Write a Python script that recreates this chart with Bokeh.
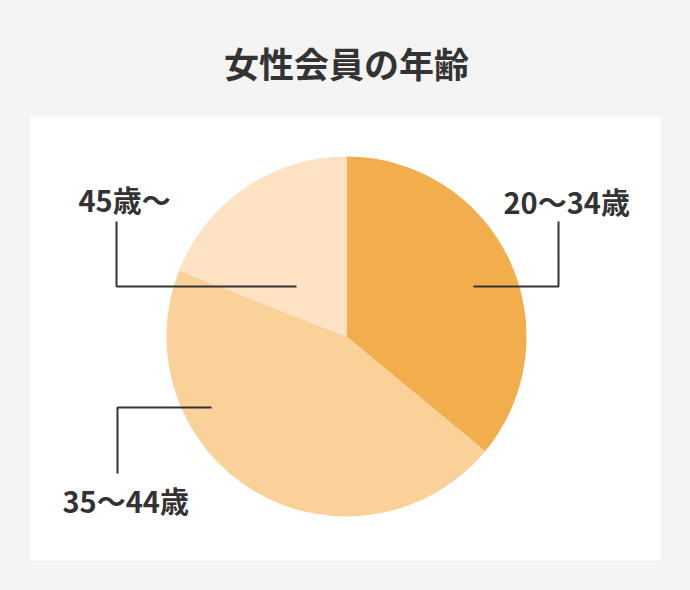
import numpy as np
from bokeh.plotting import figure
from bokeh.models import Range1d, ColumnDataSource
from bokeh.core.properties import value
from bokeh.embed import file_html
from bokeh.resources import INLINE

# ---- data ----
title = "女性会員の年齢"
categories = ["20～34歳", "35～44歳", "45歳～"]
shares = [36, 45, 19]
colors = ["#f2ae4d", "#f9d199", "#fde3c4"]

# ---- layout (reference pixel coordinates, origin top-left) ----
W, H = 690, 590
M = 8
FW, FH = W - 2 * M, H - 2 * M
FONT = "Noto Sans CJK JP"
cx, cy_px, R = 346, 336, 180

def Y(py):
    return FH - py

p = figure(width=FW, height=FH, output_backend="svg",
           toolbar_location=None, x_range=Range1d(0, FW), y_range=Range1d(0, FH),
           min_border=0)
p.axis.visible = False
p.grid.visible = False
p.outline_line_color = None
p.background_fill_color = "#f4f4f4"
p.border_fill_color = "#f4f4f4"

# white panel
p.quad(left=[30], right=[660], bottom=[Y(560)], top=[Y(116)],
       fill_color="white", line_color=None)

# pie
frac = np.array(shares, dtype=float) / sum(shares)
cum = np.concatenate([[0], np.cumsum(frac)])
start = np.pi / 2 - 2 * np.pi * cum[:-1]
end = np.pi / 2 - 2 * np.pi * cum[1:]
src = ColumnDataSource(dict(start=start, end=end, color=colors, cat=categories))
p.wedge(x=cx, y=Y(cy_px), radius=R, start_angle="start", end_angle="end",
        direction="clock", fill_color="color", line_color=None, source=src)

# leader lines
leaders = [
    ([473, 558, 558], [286, 286, 221]),
    ([211, 117, 117], [407, 407, 473]),
    ([296, 116, 116], [286, 286, 221]),
]
for xs, ys in leaders:
    p.line(xs, [Y(v) for v in ys], line_color="#333333", line_width=2)

# labels
label_pos = [(503, 200), (62, 499), (78, 198)]
for (lx, ly), txt in zip(label_pos, categories):
    p.text(x=[lx], y=[Y(ly)], text=[txt], text_font=value(FONT),
           text_font_size="29px", text_font_style="bold", text_color="#333333",
           text_align="left", text_baseline="middle")

# title
p.text(x=[346], y=[Y(62)], text=[title], text_font=value(FONT),
       text_font_size="35px", text_font_style="bold", text_color="#333333",
       text_align="center", text_baseline="middle")

html = file_html(p, INLINE)
html = html.replace("<head>", "<head><style>body{background:#f4f4f4;}</style>", 1)
open("out.html", "w").write(html)
